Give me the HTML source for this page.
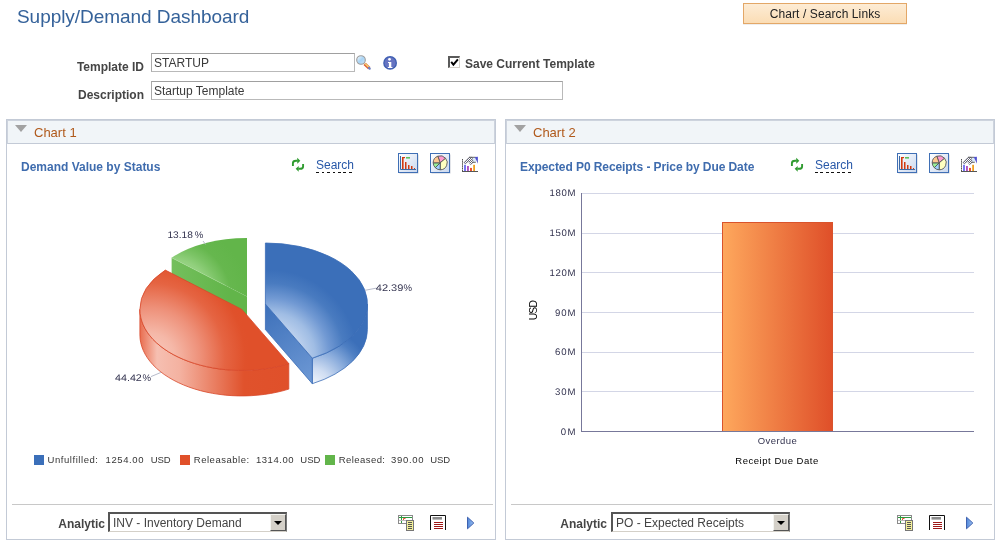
<!DOCTYPE html>
<html><head><meta charset="utf-8">
<style>
html,body{margin:0;padding:0;background:#fff;}
body{width:1000px;height:547px;position:relative;overflow:hidden;font-family:"Liberation Sans",Arial,sans-serif;font-size:12px;color:#000;}
.abs{position:absolute;white-space:nowrap;}
#title{left:17px;top:6px;font-size:19px;color:#35629a;line-height:22px;letter-spacing:-.05px;}
.lbl{font-weight:bold;font-size:12px;color:#454545;text-align:right;line-height:14px;}
.inp{border:1px solid #b9b9b9;border-top-color:#a0a0a0;border-left-color:#aaa;background:#fff;box-sizing:border-box;font-size:12px;color:#3a3a3a;line-height:14px;padding:2px 0 0 2px;}
#btn{left:743px;top:3px;width:164px;height:21px;box-sizing:border-box;border:1px solid #e3a767;background:linear-gradient(#fdecd5,#fbddb5);font-size:12px;color:#222;text-align:center;line-height:21px;letter-spacing:.1px;box-shadow:0 1px 0 #eee;}
.panel{border:1px solid #c3cad6;box-sizing:border-box;background:#fff;}
.phead{left:0;top:0;right:0;height:24px;box-sizing:border-box;background:#f1f5f8;border:1px solid #cdd3dd;border-bottom-color:#c3cad6;}
.ptitle{font-size:13px;color:#b0591b;line-height:15px;}
.tri{width:0;height:0;border-left:6.8px solid transparent;border-right:6.8px solid transparent;border-top:7.2px solid #a2a2a2;}
.ctitle{font-weight:bold;font-size:12px;color:#3f6cae;line-height:14px;}
.search{font-size:12px;color:#2858a8;line-height:14px;padding-bottom:1px;background:repeating-linear-gradient(90deg,#111 0,#111 2.7px,transparent 2.7px,transparent 5.5px) left bottom/100% 1px no-repeat;}
.foot{border-top:1px solid #c8c8c8;}
.sel{border:1px solid #d4d0c8;border-top:2px solid #555;border-left:2px solid #555;border-right:1px solid #777;box-sizing:border-box;background:#fff;font-size:12px;color:#444;line-height:14px;padding:2px 0 0 3px;}
.selbtn{right:0;top:0;width:16px;bottom:0;background:#d4d0c8;border:1px solid #f4f4f0;border-right-color:#555;border-bottom-color:#555;box-sizing:border-box;}
.selbtn:after{content:"";position:absolute;left:3px;top:6px;border-left:4px solid transparent;border-right:4px solid transparent;border-top:4px solid #000;}
svg text{font-family:"Liberation Sans",Arial,sans-serif;}
</style></head><body>

<div id="title" class="abs">Supply/Demand Dashboard</div>
<div id="btn" class="abs">Chart / Search Links</div>

<div class="abs lbl" style="left:40px;width:104px;top:60px;">Template ID</div>
<div class="abs inp" style="left:151px;top:53px;width:204px;height:19px;">STARTUP</div>
<div class="abs lbl" style="left:40px;width:104px;top:88px;">Description</div>
<div class="abs inp" style="left:151px;top:81px;width:412px;height:19px;">Startup Template</div>

<!-- checkbox -->
<div class="abs" style="left:448px;top:56px;width:12px;height:12px;box-sizing:border-box;border:1px solid #d4d0c8;border-top:2px solid #5a5a5a;border-left:2px solid #5a5a5a;background:#fff;"></div>
<svg class="abs" style="left:448px;top:56px" width="12" height="12" viewBox="0 0 12 12"><path d="M3.2 5.9 L5.4 8.6 L9.9 3.4" fill="none" stroke="#000" stroke-width="2"/></svg>
<div class="abs lbl" style="left:465px;top:57px;text-align:left;">Save Current Template</div>

<!-- PANEL 1 -->
<div class="abs panel" style="left:6px;top:119px;width:490px;height:421px;">
 <div class="abs phead"></div>
 <div class="abs tri" style="left:8px;top:5px;"></div>
 <div class="abs ptitle" style="left:27px;top:5px;">Chart 1</div>
 <div class="abs ctitle" style="left:14px;top:40px;">Demand Value by Status</div>
 <div class="abs search" style="left:309px;top:38px;">Search</div>
 <div class="abs foot" style="left:5px;right:2px;top:384px;"></div>
 <div class="abs lbl" style="left:20px;width:78px;top:397px;">Analytic</div>
 <div class="abs sel" style="left:101px;top:392px;width:179px;height:20px;">INV - Inventory Demand<div class="abs selbtn"></div></div>
</div>

<!-- PANEL 2 -->
<div class="abs panel" style="left:505px;top:119px;width:490px;height:421px;">
 <div class="abs phead"></div>
 <div class="abs tri" style="left:8px;top:5px;"></div>
 <div class="abs ptitle" style="left:27px;top:5px;">Chart 2</div>
 <div class="abs ctitle" style="left:14px;top:40px;letter-spacing:-.08px;">Expected P0 Receipts - Price by Due Date</div>
 <div class="abs search" style="left:309px;top:38px;">Search</div>
 <div class="abs foot" style="left:5px;right:2px;top:384px;"></div>
 <div class="abs lbl" style="left:20px;width:81px;top:397px;">Analytic</div>
 <div class="abs sel" style="left:105px;top:392px;width:179px;height:20px;">PO - Expected Receipts<div class="abs selbtn"></div></div>
</div>


<!-- CHARTS OVERLAY -->
<svg class="abs" style="left:0;top:0" width="1000" height="547" viewBox="0 0 1000 547">
<defs>
 <radialGradient id="gB" gradientUnits="userSpaceOnUse" cx="270" cy="358" r="88">
  <stop offset="0" stop-color="#dde7f6"/><stop offset=".33" stop-color="#c3d5ef"/><stop offset=".52" stop-color="#a0bde4"/><stop offset=".68" stop-color="#7199d3"/><stop offset=".85" stop-color="#497bc0"/><stop offset="1" stop-color="#3b6fb9"/>
 </radialGradient>
 <radialGradient id="gBw" gradientUnits="userSpaceOnUse" cx="312" cy="387" r="62">
  <stop offset="0" stop-color="#f7fafd"/><stop offset=".3" stop-color="#cfddf2"/><stop offset=".6" stop-color="#8aacdc"/><stop offset=".85" stop-color="#4e7fc3"/><stop offset="1" stop-color="#3b6fb9"/>
 </radialGradient>
 <linearGradient id="gBc" gradientUnits="userSpaceOnUse" x1="265" y1="310" x2="313" y2="380">
  <stop offset="0" stop-color="#3f72bb"/><stop offset="1" stop-color="#6d98d4"/>
 </linearGradient>
 <radialGradient id="gR" gradientUnits="userSpaceOnUse" cx="150" cy="358" r="100">
  <stop offset="0" stop-color="#f9cdc1"/><stop offset=".25" stop-color="#f5b8a8"/><stop offset=".5" stop-color="#ee917a"/><stop offset=".75" stop-color="#e56442"/><stop offset=".95" stop-color="#e0512b"/><stop offset="1" stop-color="#e0502a"/>
 </radialGradient>
 <linearGradient id="gRw" gradientUnits="userSpaceOnUse" x1="139" y1="0" x2="289" y2="0">
  <stop offset="0" stop-color="#e8694a"/><stop offset=".12" stop-color="#f6bfb1"/><stop offset=".27" stop-color="#f4b2a1"/><stop offset=".45" stop-color="#ec8a70"/><stop offset=".7" stop-color="#e0522c"/><stop offset="1" stop-color="#e0502a"/>
 </linearGradient>
 <radialGradient id="gG" gradientUnits="userSpaceOnUse" cx="171" cy="300" r="78">
  <stop offset="0" stop-color="#a0d88e"/><stop offset=".52" stop-color="#93d17f"/><stop offset=".64" stop-color="#7cc466"/><stop offset=".78" stop-color="#66b74e"/><stop offset="1" stop-color="#62b54a"/>
 </radialGradient>
 <linearGradient id="gGc" gradientUnits="userSpaceOnUse" x1="172" y1="0" x2="247" y2="0">
  <stop offset="0" stop-color="#74bf5d"/><stop offset=".45" stop-color="#69b951"/><stop offset=".75" stop-color="#62b54a"/><stop offset="1" stop-color="#62b54a"/>
 </linearGradient>
 <linearGradient id="gBar" x1="0" y1="0" x2="1" y2="0">
  <stop offset="0" stop-color="#fea85d"/><stop offset="1" stop-color="#df4f29"/>
 </linearGradient>
</defs>

<defs>
 <linearGradient id="gIb" x1="0" y1="0" x2="1" y2="1"><stop offset="0" stop-color="#ffffff"/><stop offset="1" stop-color="#c9d7ee"/></linearGradient>
 <pattern id="hatch" width="2" height="2" patternUnits="userSpaceOnUse"><rect width="2" height="2" fill="#fff"/><rect width="1" height="1" fill="#667"/><rect x="1" y="1" width="1" height="1" fill="#667"/></pattern>
 <linearGradient id="gTri" x1="0" y1="0" x2="1" y2="0"><stop offset="0" stop-color="#4f86d9"/><stop offset="1" stop-color="#9cc0f0"/></linearGradient>
 <linearGradient id="gLens" x1="0" y1="0" x2="1" y2="1"><stop offset="0" stop-color="#ffffff"/><stop offset=".5" stop-color="#a9d4f5"/><stop offset="1" stop-color="#cfe6fa"/></linearGradient>
 <g id="icons">
  <!-- refresh -->
  <g fill="none" stroke="#2f9b2f" stroke-width="1.9">
   <path d="M292.9 165.9 V163.2 Q292.9 160.7 296 160.7 H297.6"/>
   <path d="M303.1 164 V166.4 Q303.1 168.8 300 168.8 H298.4"/>
  </g>
  <path d="M297.2 157.8 L300.3 160.7 L297.3 163.7 Z" fill="#2f9b2f"/>
  <path d="M298.7 165.9 L295.7 168.7 L298.7 171.8 Z" fill="#2f9b2f"/>
  <!-- bar icon -->
  <rect x="399.5" y="154.5" width="19" height="19" fill="#9aa3b5" opacity=".55"/>
  <rect x="398.5" y="153.5" width="19" height="19" fill="url(#gIb)" stroke="#3f6fb5"/>
  <path d="M400.5 156 V169.5 H416" fill="none" stroke="#3d6aa5" stroke-width="1"/>
  <g fill="#d23a10"><rect x="402" y="157" width="1.6" height="12"/><rect x="402" y="157" width="3" height="1.2"/><rect x="405" y="162" width="1.5" height="7"/><rect x="408" y="165" width="1.5" height="4"/><rect x="411" y="166" width="1.5" height="3"/><rect x="414" y="168" width="1" height="1"/></g>
  <rect x="406" y="157" width="4" height="1.6" fill="#5fc05f"/>
  <!-- pie icon -->
  <rect x="431.5" y="154.5" width="19" height="19" fill="#9aa3b5" opacity=".55"/>
  <rect x="430.5" y="153.5" width="19" height="19" fill="url(#gIb)" stroke="#3f6fb5"/>
  <g stroke="#555" stroke-width=".9">
   <path d="M440.2 162.8 L437.8 156.2 A7 7 0 0 1 445.6 158.3 Z" fill="#ff9ad0"/>
   <path d="M440.2 162.8 L445.6 158.3 A7 7 0 0 1 440.2 169.8 Z" fill="#ffffc0"/>
   <path d="M440.2 162.8 L440.2 169.8 A7 7 0 0 1 435.3 167.7 Z" fill="#a0d0ff"/>
   <path d="M440.2 162.8 L435.3 167.7 A7 7 0 0 1 433.2 162.8 Z" fill="#98f098"/>
   <path d="M440.2 162.8 L433.2 162.8 A7 7 0 0 1 437.8 156.2 Z" fill="#ffc890"/>
  </g>
  <!-- trend icon -->
  <path d="M462.5 159 V171" stroke="#555" stroke-width="1" stroke-dasharray="1.6 .5" fill="none"/>
  <path d="M462 171.5 H478" stroke="#555" stroke-width="1"/>
  <rect x="464.1" y="164.8" width="1.8" height="6.2" fill="#6a6af0"/><rect x="467" y="166" width="1.9" height="5" fill="#b050c0"/><rect x="470.1" y="167.9" width="1.8" height="3.1" fill="#e84020"/><rect x="473.2" y="164.8" width="1.8" height="6.2" fill="#f0a020"/>
  <path d="M471 157.6 H476 V162 H472.8 Z" fill="#dcebfb"/>
  <path d="M464 162.4 L469 157.2 H472.2 L473.2 162.6 L470.6 164.8 L468.4 161.6 L465 164 Z" fill="url(#hatch)" stroke="#667" stroke-width=".4"/>
  <path d="M469 157.3 H475.5 M472.6 162.3 H475.8" stroke="#555" stroke-width=".9" fill="none"/>
  <path d="M474.8 157 L477.9 156.8 L477.9 163.8 Z" fill="#5050d0"/>
  <!-- footer: table+doc -->
  <rect x="398.5" y="515.5" width="14" height="8" fill="#fff" stroke="#8a8a8a"/>
  <path d="M399 517.5 H412 M401.5 516 V523" stroke="#2e9a3e" stroke-width="1" fill="none"/>
  <path d="M399 520.5 H406" stroke="#bdbdbd" stroke-width="1"/>
  <path d="M403.5 520 V518.5 H405.5" stroke="#e85030" stroke-width="1" fill="none"/>
  <rect x="406.5" y="520.5" width="7" height="10" fill="#f3f09a" stroke="#777"/>
  <path d="M408 522.5 H412 M408 524.5 H412 M408 526.5 H412 M408 528.5 H412" stroke="#555" stroke-width="1"/>
  <!-- footer: report -->
  <path d="M430.5 530 V515.5 H445.5 V530" fill="#fff" stroke="#111" stroke-width="1"/>
  <rect x="432.5" y="517" width="9.5" height="2.6" fill="#8c8c8c"/>
  <path d="M434 522.5 H443 M434 524.5 H443 M434 526.5 H443 M434 528.5 H443" stroke="#a01818" stroke-width="1"/>
  <!-- footer: play -->
  <path d="M467.5 517.2 L473.8 523 L467.5 528.8 Z" fill="url(#gTri)" stroke="#3f62b0" stroke-width="1"/>
 </g>
</defs>

<!-- lookup + info icons -->
<g>
 <path d="M364.6 63.8 L369.2 68.2" stroke="#e0552f" stroke-width="3.2" stroke-linecap="butt"/>
 <path d="M364.9 63.5 L369.2 67.6" stroke="#f0d070" stroke-width="1.6" stroke-linecap="butt"/>
 <path d="M369 67.9 L369.7 68.6" stroke="#7080c0" stroke-width="2.2" stroke-linecap="round"/>
 <circle cx="361" cy="60" r="4.3" fill="url(#gLens)" stroke="#9b9b9b" stroke-width="1.1"/>
 <circle cx="390.1" cy="62.9" r="6.9" fill="#3e5fb2"/>
 <circle cx="390.1" cy="62.9" r="5.6" fill="#6674c2"/>
 <circle cx="389.5" cy="59.3" r="1.35" fill="#fff"/>
 <path d="M388 62 H391.3 V66.9 H392.4 V68 H387.8 V66.9 H388.9 V63.1 H388 Z" fill="#fff"/>
</g>
<use href="#icons"/>
<use href="#icons" transform="translate(499 0)"/>
<g id="pie">
<!-- green -->
<path d="M247.0 296.6 L171.6 257.7 L171.6 283.2 L247.0 324.5 Z" fill="url(#gGc)"/>
<path d="M247.0 296.6 L171.6 257.7 A102 61 0 0 1 247.0 238.0 Z" fill="url(#gG)"/>
<path d="M171.6 257.7 L225 285.2" stroke="#a9dc98" stroke-width="1" opacity=".4"/>
<!-- red -->
<path d="M288.8 363.6 A102 61 0 0 1 139.9 309.4 L139.9 334.9 A102 61 0 0 0 288.8 389.1 Z" fill="url(#gRw)" stroke="#d8482a" stroke-width=".8"/>
<path d="M241.9 309.4 L288.8 363.6 A102 61 0 0 1 139.9 309.4 A102 59.5 0 0 1 165.3 270.1 Z" fill="url(#gR)" stroke="#d8482a" stroke-width=".8"/>
<!-- blue -->
<path d="M367.4 304.0 A102 61 0 0 1 312.3 358.2 L312.3 383.7 A102 61 0 0 0 367.4 329.5 Z" fill="url(#gBw)" stroke="#3a6cb6" stroke-width=".8"/>
<path d="M265.4 304.0 L312.3 358.2 L312.3 383.7 L265.4 329.5 Z" fill="url(#gBc)" stroke="#3a6cb6" stroke-width=".8"/>
<path d="M265.4 304.0 L265.4 243.0 A102 61 0 0 1 312.3 358.2 Z" fill="url(#gB)" stroke="#3a6cb6" stroke-width=".8"/>

<g stroke="#b8bccb" stroke-width="1" fill="none">
 <path d="M203 241 L205.6 244.4"/><path d="M365 290.3 L376 288.2"/><path d="M151 376.6 L161 372.4"/>
</g>
<g font-size="9.6" fill="#33334f" text-rendering="geometricPrecision">
 <text y="237.7"><tspan x="167.4" textLength="25.4" lengthAdjust="spacingAndGlyphs">13.18</tspan><tspan x="194.8">%</tspan></text>
 <text y="291"><tspan x="375.8" textLength="27.6" lengthAdjust="spacingAndGlyphs">42.39</tspan><tspan x="403.6">%</tspan></text>
 <text y="381"><tspan x="115" textLength="26.8" lengthAdjust="spacingAndGlyphs">44.42</tspan><tspan x="142.4">%</tspan></text>
</g>
</g>
<g id="legend" font-size="9.5" fill="#363636">
 <rect x="34" y="455" width="10" height="10" fill="#3b6fb9"/>
 <text x="47.5" y="463" textLength="50.5" lengthAdjust="spacing">Unfulfilled:</text>
 <text x="105.5" y="463" textLength="38" lengthAdjust="spacing">1254.00</text>
 <text x="150.7" y="463" textLength="20" lengthAdjust="spacing">USD</text>
 <rect x="180" y="455" width="10" height="10" fill="#e0502a"/>
 <text x="193.8" y="463" textLength="55.3" lengthAdjust="spacing">Releasable:</text>
 <text x="256" y="463" textLength="37.5" lengthAdjust="spacing">1314.00</text>
 <text x="300.3" y="463" textLength="20" lengthAdjust="spacing">USD</text>
 <rect x="325" y="455" width="10" height="10" fill="#62b54a"/>
 <text x="338.7" y="463" textLength="46.3" lengthAdjust="spacing">Released:</text>
 <text x="391" y="463" textLength="32.5" lengthAdjust="spacing">390.00</text>
 <text x="430.2" y="463" textLength="20" lengthAdjust="spacing">USD</text>
</g>
<g id="bar">
 <g stroke="#d3d6e6" stroke-width="1" shape-rendering="crispEdges">
  <line x1="581" y1="193.5" x2="974" y2="193.5"/><line x1="581" y1="233.5" x2="974" y2="233.5"/>
  <line x1="581" y1="272.5" x2="974" y2="272.5"/><line x1="581" y1="312.5" x2="974" y2="312.5"/>
  <line x1="581" y1="352.5" x2="974" y2="352.5"/><line x1="581" y1="391.5" x2="974" y2="391.5"/>
 </g>
 <rect x="722.5" y="222.5" width="110" height="209" fill="url(#gBar)" stroke="#d9532c" stroke-width="1"/>
 <g stroke="#77789a" stroke-width="1" shape-rendering="crispEdges">
  <line x1="581.5" y1="193" x2="581.5" y2="432"/><line x1="581" y1="431.5" x2="974" y2="431.5"/>
 </g>
 <g font-size="9.6" fill="#33334f" text-anchor="end" text-rendering="geometricPrecision">
  <text x="575.6" y="196" textLength="26" lengthAdjust="spacing">180M</text>
  <text x="575.6" y="236" textLength="26" lengthAdjust="spacing">150M</text>
  <text x="575.6" y="276" textLength="26" lengthAdjust="spacing">120M</text>
  <text x="575.6" y="316" textLength="20.6" lengthAdjust="spacing">90M</text>
  <text x="575.6" y="355" textLength="20.6" lengthAdjust="spacing">60M</text>
  <text x="575.6" y="395" textLength="20.6" lengthAdjust="spacing">30M</text>
  <text x="575.6" y="435" textLength="14.8" lengthAdjust="spacing">0M</text>
 </g>
 <text x="757.7" y="444" font-size="9.5" fill="#33334f" textLength="39" lengthAdjust="spacing">Overdue</text>
 <text x="735.3" y="464" font-size="9.5" fill="#000" textLength="83" lengthAdjust="spacing">Receipt Due Date</text>
 <text transform="translate(537.4 320.3) rotate(-90)" font-size="10.3" fill="#000" textLength="20.2" lengthAdjust="spacing">USD</text>
</g>
</svg>

</body></html>
